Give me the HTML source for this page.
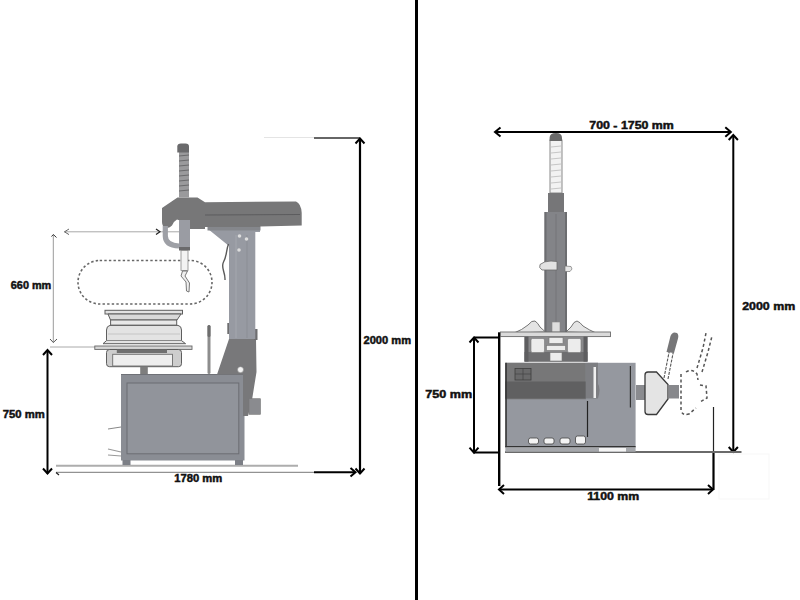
<!DOCTYPE html>
<html><head><meta charset="utf-8"><title>Tire changer dimensions</title>
<style>
html,body{margin:0;padding:0;background:#fff;width:800px;height:600px;overflow:hidden}
svg{display:block}
text{font-family:"Liberation Sans",sans-serif;font-weight:bold;fill:#111;stroke:#111;stroke-width:0.45px}
</style></head><body>
<svg width="800" height="600" viewBox="0 0 800 600">
<rect width="800" height="600" fill="#fff"/>

<!-- ================= LEFT PANEL ================= -->
<g id="left">
  <!-- top 2000 reference line -->
  <line x1="264" y1="137.5" x2="314" y2="137.5" stroke="#e4e4e4" stroke-width="1.2"/>
  <line x1="314" y1="138" x2="360" y2="138" stroke="#333" stroke-width="1.6"/>
  <!-- 2000 vertical arrow -->
  <line x1="360" y1="138.5" x2="360" y2="473.5" stroke="#000" stroke-width="2.2"/>
  <polyline points="355.5,143.5 360,138.5 364.5,143.5" fill="none" stroke="#000" stroke-width="2"/>
  <polyline points="355.5,468.5 360,473.5 364.5,468.5" fill="none" stroke="#000" stroke-width="2"/>
  <text x="363.5" y="344.4" font-size="10" textLength="47.5" lengthAdjust="spacingAndGlyphs">2000 mm</text>

  <!-- ground line -->
  <line x1="56" y1="465.8" x2="298" y2="465.8" stroke="#adadad" stroke-width="2"/>
  <!-- 1780 dim -->
  <line x1="56" y1="472.3" x2="314" y2="472.3" stroke="#777" stroke-width="1"/>
  <line x1="314" y1="472.3" x2="355" y2="472.3" stroke="#000" stroke-width="2"/>
  <polyline points="350.5,468 355.5,472.3 350.5,476.6" fill="none" stroke="#000" stroke-width="2"/>
  <line x1="56" y1="472.5" x2="59" y2="475" stroke="#222" stroke-width="1.2"/>
  <text x="174.3" y="482.2" font-size="10" textLength="48" lengthAdjust="spacingAndGlyphs">1780 mm</text>

  <!-- 750 dim -->
  <line x1="47.5" y1="350" x2="47.5" y2="473.5" stroke="#000" stroke-width="2"/>
  <polyline points="43,355 47.5,350 52,355" fill="none" stroke="#000" stroke-width="2"/>
  <polyline points="43,468.5 47.5,473.5 52,468.5" fill="none" stroke="#000" stroke-width="2"/>
  <text x="2.7" y="418.1" font-size="10" textLength="42" lengthAdjust="spacingAndGlyphs">750 mm</text>

  <!-- 660 dim -->
  <line x1="53.3" y1="235" x2="53.3" y2="342.5" stroke="#9a9a9a" stroke-width="1"/>
  <polyline points="51.5,236.5 53.3,234.5 56.5,237.5" fill="none" stroke="#333" stroke-width="1"/>
  <polyline points="50,339 53.3,342.5 57,339" fill="none" stroke="#555" stroke-width="1"/>
  <text x="10.8" y="289.1" font-size="10" textLength="40.5" lengthAdjust="spacingAndGlyphs">660 mm</text>
  <!-- 660 top horizontal -->
  <line x1="64" y1="231.8" x2="180" y2="231.8" stroke="#a8a8a8" stroke-width="1"/>
  <polyline points="69,229 64.5,231.8 69,234.6" fill="none" stroke="#666" stroke-width="1"/>
  <polyline points="156,229 160,231.8 156,234.6" fill="none" stroke="#222" stroke-width="1.2"/>
  <!-- 660 bottom horizontal -->
  <line x1="50" y1="347" x2="96" y2="347" stroke="#aaa" stroke-width="1"/>

  <!-- dashed tire -->
  <rect x="78" y="260.5" width="134" height="43.5" rx="21.7" ry="21.7" fill="none" stroke="#676767" stroke-width="1.6" stroke-dasharray="2.4 2.2"/>

  <!-- rim -->
  <g stroke="#5e5e5e" stroke-width="1">
    <rect x="105" y="310.3" width="77.5" height="3.7" fill="#e2e2e2"/>
    <path d="M108,314 L181,314 L177,320 L110.5,320 Z" fill="#d9d9d9"/>
    <rect x="110.6" y="320" width="66.1" height="5.2" fill="#e8e8e8"/>
    <path d="M110,325.4 L178,325.4 Q181.5,326 181.5,330 L181.5,340.6 L185.6,343.7 L103,343.7 L106.5,340.6 L106.5,330 Q106.5,326 110,325.4 Z" fill="#e3e3e3"/>
  </g>
  <line x1="108" y1="334" x2="180" y2="334" stroke="#cfcfcf" stroke-width="1.5"/>
  <line x1="107" y1="340.5" x2="181" y2="340.5" stroke="#8a8a8a" stroke-width="1"/>
  <!-- plate -->
  <rect x="94.8" y="346" width="97.2" height="3.4" fill="#d6d6d6" stroke="#666" stroke-width="0.9"/>
  <!-- clamp -->
  <rect x="106.5" y="349.5" width="75" height="17.2" rx="3" fill="#cdcdcd" stroke="#5e5e5e" stroke-width="1"/>
  <rect x="116.8" y="349.5" width="50.2" height="3.5" fill="#707070"/>
  <rect x="112.7" y="354.3" width="59.8" height="11.7" fill="#eeeeee" stroke="#6e6e6e" stroke-width="0.9"/>
  <!-- shaft -->
  <rect x="140.2" y="366.7" width="7.6" height="7.5" fill="#7e7e7e"/>

  <!-- lever rod -->
  <rect x="207.5" y="325" width="3" height="49" rx="1.5" fill="#8d8d8d"/>
  <rect x="207.5" y="325" width="3" height="12" rx="1.5" fill="#6d6d6d"/>

  <!-- cabinet -->
  <rect x="121" y="374" width="123.5" height="86.5" fill="#8a8d94"/>
  <rect x="121" y="374" width="123.5" height="1" fill="#6f7177"/>
  <rect x="127" y="383" width="111.8" height="70.8" fill="#91949b" stroke="#6b6d73" stroke-width="1"/>
  <rect x="122.5" y="460" width="8" height="5" fill="#7c7f86"/>
  <rect x="235" y="460" width="8" height="5" fill="#7c7f86"/>
  <!-- small pedals left -->
  <path d="M108,449 L121,452 M108,455 L121,456" stroke="#999" stroke-width="1.2" fill="none"/>
  <path d="M108,429 L121,427" stroke="#888" stroke-width="1" fill="none"/>

  <!-- column base (dark slanted) -->
  <path d="M229,339 L256,339 L256.5,372 L252,400 L248,416 L243,416 L243,374.5 L217,374.5 Z" fill="#78787a"/>
  <circle cx="240.5" cy="369.7" r="3" fill="#f4f4f4" stroke="#888" stroke-width="0.6"/>
  <!-- small box on base -->
  <rect x="249" y="398.7" width="11.5" height="15.6" fill="#8a8b8f" stroke="#777" stroke-width="0.6"/>
  <rect x="227.3" y="323" width="3" height="11" fill="#6e6e70"/>
  <rect x="254" y="329" width="3.5" height="11" fill="#6e6e70"/>
  <!-- column -->
  <rect x="229" y="229" width="26.3" height="110" fill="#979aa2"/>
  <line x1="236" y1="235" x2="236" y2="338" stroke="#a4a7ae" stroke-width="1"/>
  <line x1="247" y1="235" x2="247" y2="338" stroke="#8b8e95" stroke-width="1"/>
  <circle cx="239.5" cy="236" r="1.8" fill="#ddd"/>
  <circle cx="246.5" cy="239" r="1.8" fill="#ddd"/>
  <circle cx="239" cy="250" r="1.8" fill="#ddd"/>
  <!-- gusset -->
  <path d="M208,229 L260,229 L260,232 L229,232 L229,246 Z" fill="#979aa2"/>
  <rect x="207.5" y="226" width="53" height="4.5" fill="#85878c"/>
  <!-- cable -->
  <path d="M228.5,244 C226,250 227,256 223.5,262 C220.5,268 225.5,272 225,280" fill="none" stroke="#5a5a5a" stroke-width="1.4"/>

  <!-- arm -->
  <path d="M162,208 L177.5,197.5 L197.5,197.5 L205,202.3 L296,201.5 Q301,203.5 301.7,212.7 L301.7,225.4 L260,226.5 L260,227 L205,227 L205,229 L190,229 L190,222 L180,220.5 L177,219.5 Q174,221 172,225.5 Q169,229 165,227.5 Q162,226 162,222 Z" fill="#777778"/>
  <path d="M205,215 L300,214.5" stroke="#5c5c5e" stroke-width="1.2" fill="none"/>
  <!-- post -->
  <rect x="179" y="150" width="10" height="47.5" fill="#9a9a9c"/>
  <g stroke="#6a6a6c" stroke-width="1">
    <line x1="179" y1="156" x2="189" y2="155"/>
    <line x1="179" y1="161" x2="189" y2="160"/>
    <line x1="179" y1="166" x2="189" y2="165"/>
    <line x1="179" y1="171" x2="189" y2="170"/>
    <line x1="179" y1="176" x2="189" y2="175"/>
    <line x1="179" y1="181" x2="189" y2="180"/>
    <line x1="179" y1="186" x2="189" y2="185"/>
    <line x1="179" y1="191" x2="189" y2="190"/>
  </g>
  <path d="M177.3,152.5 L177.3,146.5 Q177.3,143.4 181,143.4 L185.5,143.4 Q189,143.4 189,146.5 L189,152.5 Z" fill="#6a6a6c"/>
  <!-- hook -->
  <path d="M165.3,226 L165.3,236 Q165.5,245.5 179,246" fill="none" stroke="#9ea0a6" stroke-width="5.2"/>
  <!-- tool -->
  <rect x="179" y="220" width="11" height="30" fill="#9a9ca3"/>
  <rect x="179" y="247" width="11" height="3.5" fill="#6a6a6c"/>
  <rect x="181" y="250.5" width="7" height="20" fill="#f3f3f3" stroke="#888" stroke-width="0.8"/>
  <path d="M182.5,271 L181,276 L186,282 L186.5,291 L189,292 L189.5,283 L185,276 L187.5,271 Z" fill="#eee" stroke="#6a6a6a" stroke-width="0.9"/>
</g>

<!-- divider -->
<rect x="415" y="0" width="3" height="600" fill="#000"/>

<!-- ================= RIGHT PANEL ================= -->
<g id="right">
  <!-- top arrow -->
  <line x1="495" y1="132" x2="730.5" y2="132" stroke="#000" stroke-width="2"/>
  <polyline points="500.5,127.5 495,132 500.5,136.5" fill="none" stroke="#000" stroke-width="2"/>
  <polyline points="725.3,127.3 730.8,132 725.3,136.7" fill="none" stroke="#000" stroke-width="2"/>
  <text x="589.3" y="129" font-size="10" textLength="84.5" lengthAdjust="spacingAndGlyphs">700 - 1750 mm</text>

  <!-- 2000 vertical -->
  <line x1="733.3" y1="135" x2="733.3" y2="452" stroke="#000" stroke-width="2"/>
  <polyline points="728.7,140 733.3,135 737.9,140" fill="none" stroke="#000" stroke-width="2"/>
  <polyline points="728.7,447 733.3,452 737.9,447" fill="none" stroke="#000" stroke-width="2"/>
  <text x="742.2" y="310.4" font-size="10" textLength="53" lengthAdjust="spacingAndGlyphs">2000 mm</text>

  <!-- 750 dim -->
  <line x1="474" y1="337.5" x2="474" y2="452.7" stroke="#000" stroke-width="2"/>
  <polyline points="469.5,342.5 474,337.5 478.5,342.5" fill="none" stroke="#000" stroke-width="2"/>
  <polyline points="469.5,447.7 474,452.7 478.5,447.7" fill="none" stroke="#000" stroke-width="2"/>
  <line x1="474" y1="337.5" x2="499" y2="337.5" stroke="#000" stroke-width="2"/>
  <line x1="474" y1="452.5" x2="499" y2="452.5" stroke="#000" stroke-width="2"/>
  <text x="425.3" y="397.8" font-size="10" textLength="47" lengthAdjust="spacingAndGlyphs">750 mm</text>

  <!-- left vertical ref -->
  <line x1="499.2" y1="332.3" x2="499.2" y2="486" stroke="#000" stroke-width="2.4"/>
  <!-- ground line -->
  <line x1="505" y1="452" x2="741.5" y2="452" stroke="#6a6a6a" stroke-width="1.8"/>
  <!-- right vertical ref -->
  <line x1="713.5" y1="407" x2="713.5" y2="451" stroke="#222" stroke-width="1.2"/>
  <line x1="713.5" y1="453" x2="713.5" y2="489.8" stroke="#000" stroke-width="2.2"/>
  <!-- 1100 dim -->
  <line x1="499" y1="489.5" x2="713" y2="489.5" stroke="#000" stroke-width="2"/>
  <polyline points="504,485 499,489.5 504,494" fill="none" stroke="#000" stroke-width="2"/>
  <polyline points="708,485 713,489.5 708,494" fill="none" stroke="#000" stroke-width="2"/>
  <text x="587.2" y="500.2" font-size="10" textLength="52" lengthAdjust="spacingAndGlyphs">1100 mm</text>

  <!-- post -->
  <rect x="550" y="140" width="12" height="53" fill="#f2f2f2" stroke="#8a8a8a" stroke-width="1"/>
  <g stroke="#c6c6c6" stroke-width="1">
    <line x1="551" y1="147" x2="561" y2="146"/>
    <line x1="551" y1="153" x2="561" y2="152"/>
    <line x1="551" y1="159" x2="561" y2="158"/>
    <line x1="551" y1="165" x2="561" y2="164"/>
    <line x1="551" y1="171" x2="561" y2="170"/>
    <line x1="551" y1="177" x2="561" y2="176"/>
    <line x1="551" y1="183" x2="561" y2="182"/>
    <line x1="551" y1="189" x2="561" y2="188"/>
  </g>
  <path d="M549.6,141 L549.6,138 Q549.6,133 556,133 Q562,133 562,138 L562,141 Z" fill="#6a6a6a"/>
  <rect x="548" y="193" width="16" height="19" fill="#767678"/>
  <!-- column -->
  <rect x="544.5" y="212" width="22.5" height="120" fill="#838488"/>
  <line x1="556" y1="214" x2="556" y2="330" stroke="#747579" stroke-width="1"/>
  <rect x="544.5" y="212" width="2" height="120" fill="#6c6d70"/>
  <rect x="565" y="212" width="2" height="120" fill="#6c6d70"/>
  <!-- collar ring -->
  <path d="M540,264.5 Q544,261 551,261 L557,261.5 L557,270 L542,270 Q538.5,268 540,264.5 Z" fill="#e2e2e2" stroke="#6a6a6a" stroke-width="0.8"/>
  <path d="M565,266 L571,266.5 L572,269 L570,271.5 L565,271.5 Z" fill="#e6e6e6" stroke="#777" stroke-width="0.7"/>
  <!-- jaws -->
  <path d="M514,333 Q522,330 528,325 Q532,320 535,321 Q538,323 540,327 L545.5,332 Z" fill="#e4e4e4" stroke="#666" stroke-width="0.9"/>
  <path d="M566,332 L571,327 Q574,321 577,321 Q580,322 583,326 Q589,330 596,333 Z" fill="#e4e4e4" stroke="#666" stroke-width="0.9"/>
  <rect x="552" y="322" width="8" height="10" fill="#dedede" stroke="#888" stroke-width="0.6"/>
  <!-- plate -->
  <rect x="500.5" y="332" width="110" height="4.6" fill="#dadada" stroke="#6a6a6a" stroke-width="0.9"/>
  <!-- clamp body -->
  <rect x="524.5" y="336.6" width="63" height="25" fill="#8a8a8c"/>
  <rect x="524.5" y="352" width="63" height="9.6" fill="#6e6e70"/>
  <rect x="524.5" y="336.6" width="4" height="25" fill="#5e5e60"/>
  <rect x="583.5" y="336.6" width="4" height="25" fill="#5e5e60"/>
  <g fill="#ececec" stroke="#777" stroke-width="0.6">
    <rect x="531" y="338.5" width="13.5" height="14" rx="1.5"/>
    <rect x="567.5" y="338.5" width="13.5" height="14" rx="1.5"/>
    <rect x="549" y="337.5" width="14" height="6"/>
    <rect x="546.5" y="345.5" width="19" height="5"/>
    <rect x="550" y="352.5" width="12" height="8.5"/>
  </g>

  <!-- cabinet -->
  <rect x="505.3" y="362.8" width="130.3" height="84.5" fill="#95989f"/>
  <rect x="505.3" y="362.8" width="80.5" height="36.5" fill="#777778"/>
  <rect x="505.3" y="381.5" width="80.5" height="17" fill="#606061"/>
  <rect x="515" y="368.5" width="16" height="11.5" fill="#69696a" stroke="#3e3e3e" stroke-width="0.8"/><line x1="523" y1="368.5" x2="523" y2="380" stroke="#444" stroke-width="0.7"/><line x1="515" y1="374" x2="531" y2="374" stroke="#444" stroke-width="0.7"/>
  <path d="M585.8,362.8 L598,362.8 L598,384 Q601,388 598,398.5 L585.8,398.5 Z" fill="#7d7e82"/>
  <rect x="593.5" y="367" width="2.5" height="31" fill="#f0f0f0"/>
  <rect x="505.3" y="362.8" width="1.5" height="84.5" fill="#333"/>
  <rect x="505.3" y="446" width="130.3" height="1.5" fill="#333"/>
  <line x1="587.5" y1="401" x2="587.5" y2="437" stroke="#222" stroke-width="1.2"/>
  <line x1="630.4" y1="366" x2="630.4" y2="407.5" stroke="#333" stroke-width="1.2"/>
  <!-- base strip -->
  <rect x="505.3" y="447.5" width="130.3" height="4.3" fill="#a5a7ab"/>
  <rect x="599" y="448" width="27" height="3.5" fill="#f4f4f4"/>
  <!-- pedals -->
  <g fill="#f4f4f4" stroke="#444" stroke-width="0.8">
    <rect x="528.5" y="438" width="10" height="6" rx="2"/>
    <rect x="544" y="438" width="10" height="6" rx="2"/>
    <rect x="560" y="438" width="10" height="6" rx="2"/>
    <rect x="575.5" y="436" width="10" height="8" rx="2"/>
  </g>

  <!-- bead breaker -->
  <rect x="636" y="385" width="10" height="15" fill="#8a8b8f"/>
  <path d="M645,375 Q645,372 648,372 L656.5,372 L668,384.5 L668,399 L656.5,414.5 L648,414.5 Q645,414.5 645,411.5 Z" fill="#e4e4e4" stroke="#3a3a3a" stroke-width="1.3"/>
  <rect x="668.5" y="385" width="10.5" height="13.5" fill="#87888c"/>
  <!-- lever -->
  <path d="M664,378 L669.5,350 M668,379 L673.5,351" stroke="#555" stroke-width="1.1" stroke-dasharray="3 1.2" fill="none"/>
  <path d="M666.5,352 L670.5,336 Q672.5,331 677,333 Q679,335 678,338.5 L674,353 Z" fill="#767678"/>
  <!-- ghost dashed shape -->
  <g fill="none" stroke="#555" stroke-width="1.5" stroke-dasharray="3 2.5">
    <path d="M681,374 L681,410 Q682,416 689,414 L696,408"/>
    <path d="M686,372 Q692,368 697,374 L698,380"/>
    <path d="M700,385 L706,386 L707,398 L700,402"/>
    <path d="M702,372 L708,352 L712,336"/>
    <path d="M697,368 L703,348 L706,333"/>
  </g>
  <!-- faint ghost box bottom right -->
  <rect x="719" y="454" width="50" height="45" fill="none" stroke="#f7f7f7" stroke-width="1"/>
</g>
</svg>
</body></html>
